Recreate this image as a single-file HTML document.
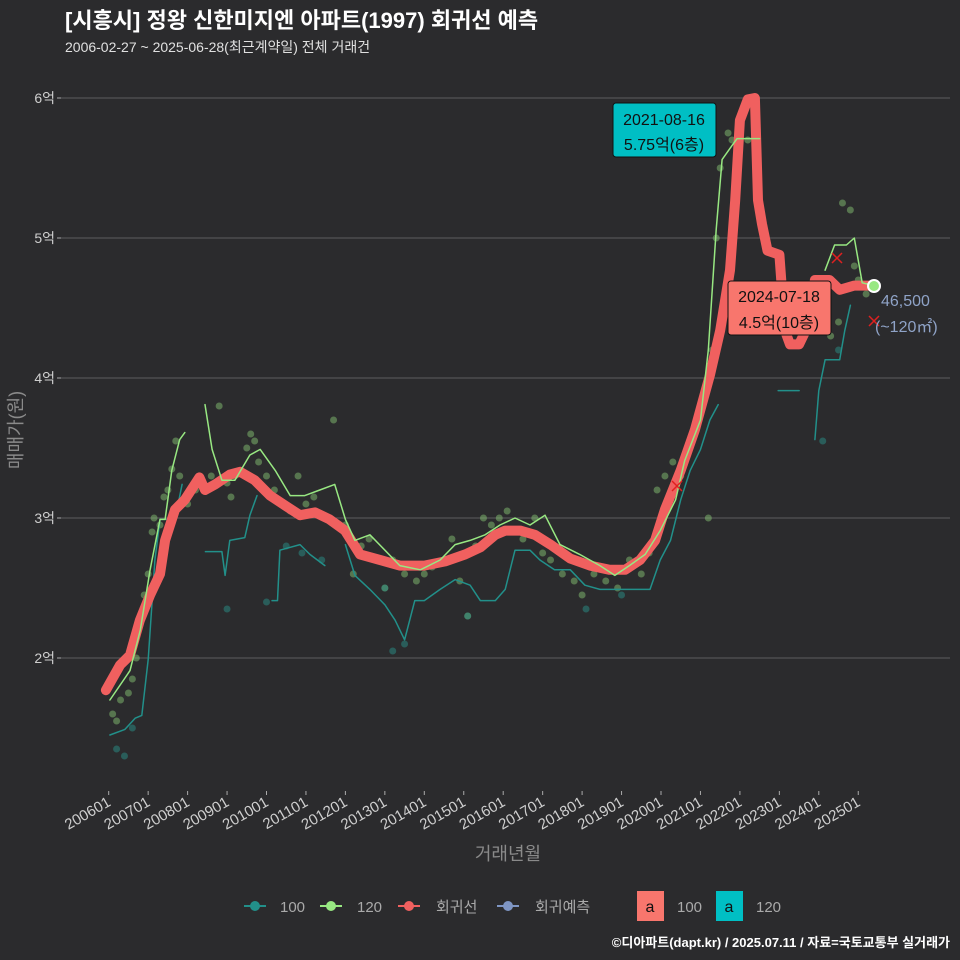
<!DOCTYPE html>
<html><head><meta charset="utf-8">
<style>
html,body{margin:0;padding:0;background:#2b2b2d;}
svg{display:block;font-family:"Liberation Sans","Noto Sans CJK KR",sans-serif;}
</style></head>
<body>
<svg id="chart" width="960" height="960" viewBox="0 0 960 960">
<rect x="0" y="0" width="960" height="960" fill="#2b2b2d"/>
<text x="65" y="28" fill="#ffffff" font-size="22" font-weight="bold">[시흥시] 정왕 신한미지엔 아파트(1997) 회귀선 예측</text>
<text x="65" y="52" fill="#e0e0e0" font-size="14">2006-02-27 ~ 2025-06-28(최근계약일) 전체 거래건</text>
<g id="grid"></g>
<g id="yticks"></g>
<g id="xticks"></g>
<text x="0" y="0" transform="translate(22,430) rotate(-90)" text-anchor="middle" fill="#8a8a8a" font-size="18">매매가(원)</text>
<text x="508" y="860" text-anchor="middle" fill="#8a8a8a" font-size="18">거래년월</text>
<g id="dots"></g>
<g id="lines"></g>
<g id="annot"></g>
<g id="legend"></g>
<text x="950" y="947" text-anchor="end" fill="#ffffff" font-size="13" font-weight="bold">©디아파트(dapt.kr) / 2025.07.11 / 자료=국토교통부 실거래가</text>
</svg>
<script>
// data (t = years since 2006-01, v = 억)
const yTicks = [2,3,4,5,6];
const xTickLabels = ["200601","200701","200801","200901","201001","201101","201201","201301","201401","201501","201601","201701","201801","201901","202001","202101","202201","202301","202401","202501"];
const redT = [-0.07,0.29,0.54,0.79,1.05,1.3,1.43,1.68,1.93,2.3,2.44,2.7,3.07,3.33,3.7,4.09,4.47,4.85,5.23,5.6,5.99,6.37,6.88,7.38,8.0,8.53,9.04,9.42,9.8,10.05,10.43,10.8,11.2,11.7,12.2,12.7,13.09,13.47,13.85,14.1,14.5,14.86,15.24,15.5,15.75,15.88,16.0,16.2,16.38,16.46,16.56,16.7,17.0,17.14,17.27,17.5,17.67,17.9,18.27,18.53,18.9,19.15,19.4];
const redV = [1.77,1.95,2.02,2.27,2.45,2.6,2.84,3.06,3.13,3.29,3.2,3.24,3.31,3.33,3.27,3.16,3.09,3.02,3.04,2.99,2.91,2.74,2.7,2.66,2.66,2.69,2.74,2.79,2.88,2.91,2.91,2.88,2.81,2.71,2.66,2.63,2.63,2.7,2.84,3.06,3.34,3.63,4.02,4.34,4.77,5.27,5.84,5.99,6.0,5.27,5.1,4.91,4.88,4.34,4.24,4.24,4.34,4.7,4.7,4.63,4.66,4.66,4.66];
const g1T = [0.03,0.54,0.8,1.05,1.3,1.43,1.6,1.8,1.93];
const g1V = [1.7,1.91,2.2,2.63,2.99,2.99,3.34,3.56,3.61];
const g2T = [2.44,2.62,2.87,3.2,3.58,3.84,4.22,4.6,4.97,5.35,5.73,6.0,6.24,6.62,7.0,7.38,7.9,8.4,8.78,9.16,9.54,9.92,10.3,10.68,11.06,11.44,11.94,12.45,12.83,13.2,13.6,13.98,14.37,14.6,15.0,15.2,15.4,15.55,15.8,15.93,16.5];
const g2V = [3.81,3.49,3.27,3.27,3.45,3.49,3.34,3.16,3.16,3.2,3.24,2.99,2.84,2.88,2.77,2.66,2.63,2.7,2.81,2.84,2.88,2.95,3.0,2.95,3.02,2.81,2.74,2.66,2.59,2.66,2.74,2.91,3.13,3.41,3.7,4.2,5.06,5.56,5.66,5.71,5.71];
const g3T = [18.16,18.4,18.7,18.9,19.1,19.4];
const g3V = [4.77,4.95,4.95,5.0,4.68,4.66];
const t1T = [0.03,0.41,0.67,0.84,1.0,1.17,1.3,1.68,1.86];
const t1V = [1.45,1.49,1.57,1.59,1.99,2.7,2.99,2.99,3.24];
const t2T = [2.45,2.87,2.95,3.07,3.45,3.58,3.76];
const t2V = [2.76,2.76,2.59,2.84,2.86,3.02,3.16];
const t3T = [4.14,4.28,4.34,4.85,5.1,5.48];
const t3V = [2.41,2.41,2.77,2.81,2.74,2.66];
const t4T = [6.0,6.24,6.62,7.0,7.26,7.5,7.76,8.0,8.4,8.78,9.16,9.42,9.8,10.05,10.3,10.68,10.93,11.3,11.7,12.07,12.45,12.83,13.2,13.72,13.98,14.24,14.5,14.74,15.0,15.24,15.45];
const t4V = [2.81,2.59,2.49,2.38,2.27,2.13,2.41,2.41,2.49,2.56,2.52,2.41,2.41,2.49,2.77,2.77,2.7,2.63,2.63,2.52,2.49,2.49,2.49,2.49,2.7,2.84,3.13,3.34,3.49,3.7,3.81];
const t5T = [16.97,17.5];
const t5V = [3.91,3.91];
const t6T = [17.9,18.0,18.16,18.53,18.66,18.8];
const t6V = [3.56,3.91,4.13,4.13,4.34,4.52];
const gDotT = [0.1,0.2,0.3,0.5,0.6,0.7,0.8,0.9,1.0,1.1,1.15,1.3,1.4,1.5,1.6,1.7,1.8,2.0,2.2,2.6,2.8,3.0,3.1,3.2,3.5,3.6,3.7,3.8,4.0,4.2,4.4,4.6,4.8,5.0,5.2,5.5,5.7,6.0,6.2,6.4,6.6,6.8,7.0,7.2,7.5,7.8,8.0,8.2,8.5,8.7,8.9,9.1,9.3,9.5,9.7,9.9,10.1,10.3,10.5,10.8,11.0,11.2,11.5,11.8,12.0,12.3,12.6,12.9,13.2,13.5,13.7,13.9,14.1,14.3,14.5,14.7,14.9,15.2,15.3,15.4,15.5,15.7,15.8,15.9,16.2,18.3,18.5,18.6,18.8,18.9,19.0,19.2];
const gDotV = [1.6,1.55,1.7,1.75,1.85,2.0,2.3,2.45,2.6,2.9,3.0,2.95,3.15,3.2,3.35,3.55,3.3,3.1,3.2,3.3,3.8,3.25,3.15,3.3,3.5,3.6,3.55,3.4,3.3,3.2,3.1,3.05,3.3,3.1,3.15,3.0,3.7,2.95,2.6,2.8,2.85,2.7,2.5,2.7,2.6,2.55,2.6,2.65,2.7,2.85,2.55,2.3,2.8,3.0,2.95,3.0,3.05,2.9,2.85,3.0,2.75,2.7,2.6,2.55,2.45,2.6,2.55,2.5,2.7,2.6,2.75,3.2,3.3,3.4,3.3,3.5,3.7,3.0,4.2,5.0,5.5,5.75,5.7,5.5,5.7,4.3,4.4,5.25,5.2,4.8,4.7,4.6];
const tDotT = [0.2,0.4,0.6,3.0,4.0,4.5,4.9,5.4,7.0,7.2,7.5,9.1,12.1,13.0,18.1,18.5];
const tDotV = [1.35,1.3,1.5,2.35,2.4,2.8,2.75,2.7,2.5,2.05,2.1,2.3,2.35,2.45,3.55,4.2];

const NS = "http://www.w3.org/2000/svg";
const X0 = 108.7, XS = 39.45, YB = 798, YS = 140;
function xs(t){ return X0 + t*XS; }
function ys(v){ return YB - (v-1)*YS; }
function mk(tag, attrs, parent){
  const e = document.createElementNS(NS, tag);
  for (const k in attrs) e.setAttribute(k, attrs[k]);
  parent.appendChild(e); return e;
}
const grid = document.getElementById('grid');
const yt = document.getElementById('yticks');
yTicks.forEach(v=>{
  const l = mk('line',{x1:60,x2:950,y1:ys(v),y2:ys(v),stroke:'#5c5c5e','stroke-width':1},grid);
  
  
  const tk = mk('line',{x1:57,x2:61,y1:ys(v),y2:ys(v),stroke:'#aaa'},yt);
  
  
  const tx = mk('text',{x:55,y:ys(v)+5,'text-anchor':'end',fill:'#cfcfcf','font-size':14},yt);
  tx.textContent = v+'억';
  
  
});
const xt = document.getElementById('xticks');
xTickLabels.forEach((lab,i)=>{
  const x = xs(i);
  const tk = mk('line',{x1:x,x2:x,y1:791,y2:795,stroke:'#aaa'},xt);
  
  
  const tx = mk('text',{x:0,y:0,transform:'translate('+(x+3)+',805) rotate(-30)','text-anchor':'end',fill:'#cfcfcf','font-size':15},xt);
  tx.textContent = lab;
  
  
});
const dots = document.getElementById('dots');
gDotT.forEach((t,i)=>{
  const c = mk('circle',{cx:xs(t),cy:ys(gDotV[i]),r:3.5,fill:'#8fd07a','fill-opacity':0.45},dots);
  
  
});
tDotT.forEach((t,i)=>{
  const c = mk('circle',{cx:xs(t),cy:ys(tDotV[i]),r:3.5,fill:'#2a8f88','fill-opacity':0.5},dots);
  
  
});
const lines = document.getElementById('lines');
function path(T,V,color,w,name){
  const d = T.map((t,i)=>(i?'L':'M')+xs(t).toFixed(1)+','+ys(V[i]).toFixed(1)).join(' ');
  const p = mk('path',{d:d,fill:'none',stroke:color,'stroke-width':w,'stroke-linejoin':'round','stroke-linecap':'round'},lines);
  
  
}
path(t1T,t1V,'#22908a',1.5,'line-100');
path(t2T,t2V,'#22908a',1.5,'line-100');
path(t3T,t3V,'#22908a',1.5,'line-100');
path(t4T,t4V,'#22908a',1.5,'line-100');
path(t5T,t5V,'#22908a',1.5,'line-100');
path(t6T,t6V,'#22908a',1.5,'line-100');
path(redT,redV,'#f0605f',10,'regression-line');
path(g1T,g1V,'#98e882',1.5,'line-120');
path(g2T,g2V,'#98e882',1.5,'line-120');
path(g3T,g3V,'#98e882',1.5,'line-120');
</script>
<script>
(function(){
const a=document.getElementById('annot');
a.innerHTML=
'<g><rect x="613" y="103" width="103" height="54" rx="3" fill="#00BFC4" stroke="#111" stroke-width="1"/>'+
'<text x="664" y="125" text-anchor="middle" font-size="16" fill="#111">2021-08-16</text>'+
'<text x="664" y="150" text-anchor="middle" font-size="16" fill="#111">5.75억(6층)</text></g>'+
'<g><rect x="728" y="281" width="103" height="54" rx="3" fill="#F8766D" stroke="#111" stroke-width="1"/>'+
'<text x="779" y="302" text-anchor="middle" font-size="16" fill="#111">2024-07-18</text>'+
'<text x="779" y="328" text-anchor="middle" font-size="16" fill="#111">4.5억(10층)</text></g>'+
'<g stroke="#e02020" stroke-width="1.5">'+
'<line x1="832" y1="253" x2="842" y2="263"/><line x1="842" y1="253" x2="832" y2="263"/>'+
'<line x1="869" y1="316" x2="879" y2="326"/><line x1="879" y1="316" x2="869" y2="326"/>'+
'<line x1="672" y1="481" x2="682" y2="491"/><line x1="682" y1="481" x2="672" y2="491"/></g>'+
'<circle cx="874" cy="286" r="6" fill="#98e882" stroke="#fff" stroke-width="2"/>'+
'<text x="881" y="306" font-size="16" fill="#8fa3c7">46,500</text>'+
'<text x="875" y="332" font-size="16" fill="#8fa3c7">(~120㎡)</text>';
const L=document.getElementById('legend');
L.innerHTML=
'<g><line x1="244" y1="906" x2="266" y2="906" stroke="#22908a" stroke-width="2"/><circle cx="255" cy="906" r="5" fill="#22908a"/><text x="280" y="912" font-size="15" fill="#aaa">100</text></g>'+
'<g><line x1="320" y1="906" x2="342" y2="906" stroke="#98e882" stroke-width="2"/><circle cx="331" cy="906" r="5" fill="#98e882"/><text x="357" y="912" font-size="15" fill="#aaa">120</text></g>'+
'<g><line x1="398" y1="906" x2="420" y2="906" stroke="#f0605f" stroke-width="2"/><circle cx="409" cy="906" r="5" fill="#f0605f"/><text x="436" y="912" font-size="15" fill="#aaa">회귀선</text></g>'+
'<g><line x1="497" y1="906" x2="519" y2="906" stroke="#7f96c4" stroke-width="2"/><circle cx="508" cy="906" r="5" fill="#7f96c4"/><text x="535" y="912" font-size="15" fill="#aaa">회귀예측</text></g>'+
'<g><rect x="637" y="891" width="27" height="30" fill="#F8766D"/><text x="650" y="912" text-anchor="middle" font-size="16" fill="#111">a</text><text x="677" y="912" font-size="15" fill="#aaa">100</text></g>'+
'<g><rect x="716" y="891" width="27" height="30" fill="#00BFC4"/><text x="729" y="912" text-anchor="middle" font-size="16" fill="#111">a</text><text x="756" y="912" font-size="15" fill="#aaa">120</text></g>';
})();
</script>
</body></html>
